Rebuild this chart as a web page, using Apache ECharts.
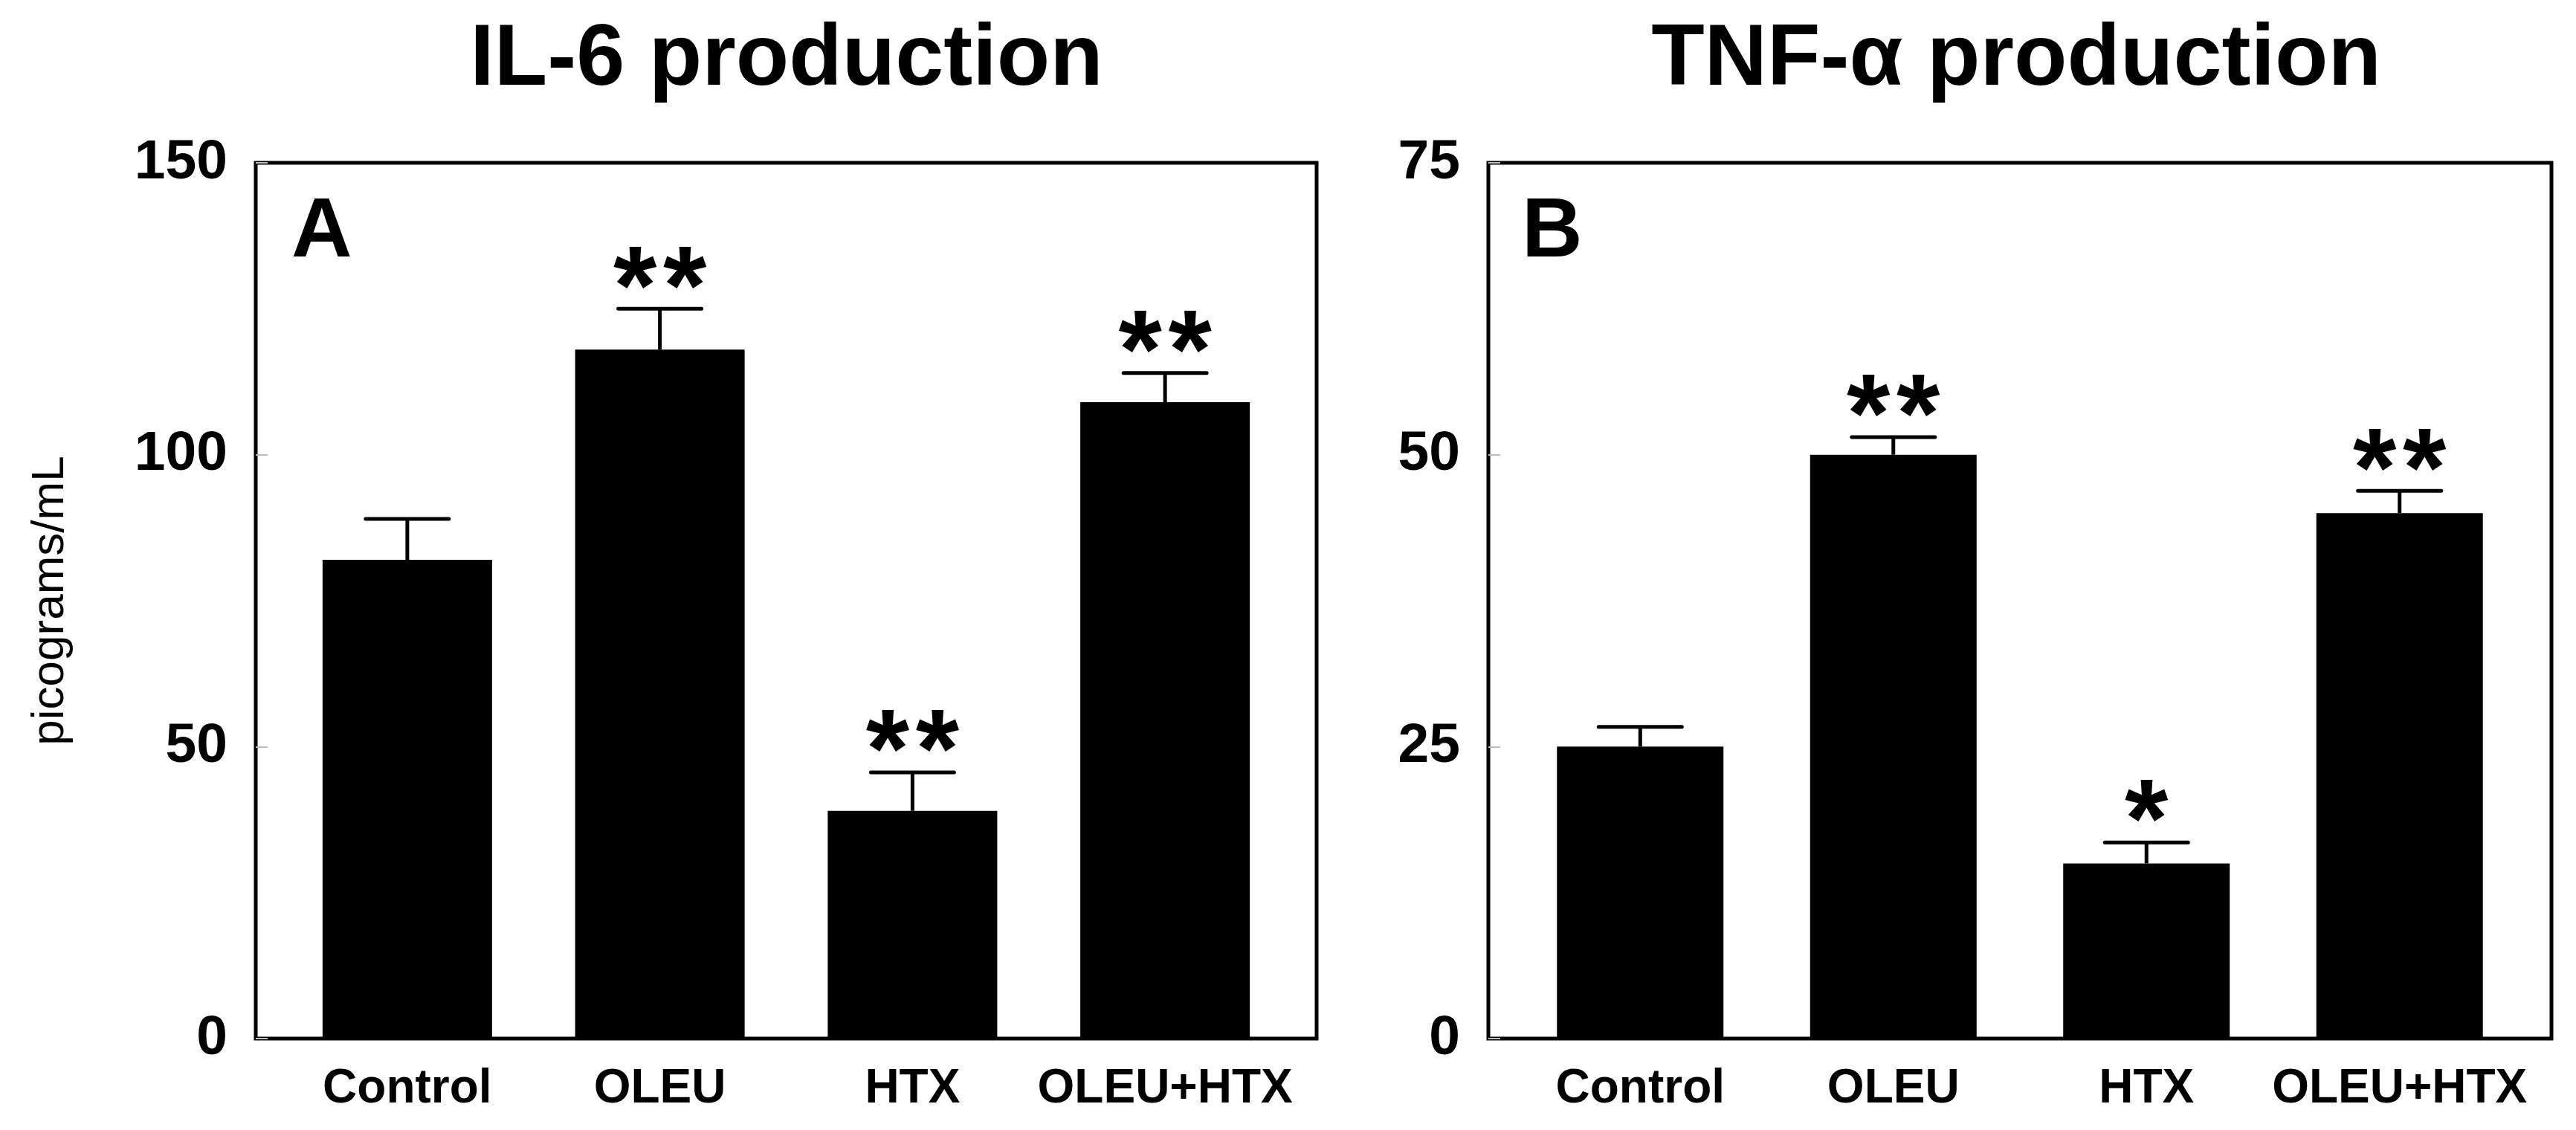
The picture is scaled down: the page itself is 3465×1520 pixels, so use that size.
<!DOCTYPE html>
<html lang="en" style="height: 100%">

<head>
  <meta charset="utf-8">
</head>

<body style="height: 100%; margin: 0; background: #fff">
  <div id="container" style="height: 100%"></div>

  <script type="text/javascript" src="https://fastly.jsdelivr.net/npm/echarts@6.0.0/dist/echarts.min.js"></script>

  <script type="text/javascript">
    var dom = document.getElementById('container');
    var myChart = echarts.init(dom, null, {
      renderer: 'canvas',
      useDirtyRect: false
    });

    const categories = ['Control', 'OLEU', 'HTX', 'OLEU+HTX'];

    const il6Values = [82, 118, 39, 109];
    const il6Errors = [7, 7, 6.6, 5];
    const il6Stars = ['', '**', '**', '**'];

    const tnfValues = [25, 50, 15, 45];
    const tnfErrors = [1.7, 1.5, 1.8, 1.9];
    const tnfStars = ['', '**', '*', '**'];

    const il6Axis = { max: 150, interval: 50 };
    const tnfAxis = { max: 75, interval: 25 };

    const FONT = '"Liberation Sans", Arial, Helvetica, sans-serif';

    function barData(values) {
      return values.map((v, i) => [i, v]);
    }

    function errData(values, errors, stars) {
      return values.map((v, i) => [i, v, errors[i], stars[i]]);
    }

    // error bar + significance stars
    function renderErr(params, api) {
      const x = api.value(0);
      const v = api.value(1);
      const e = api.value(2);
      const stars = api.value(3) || '';
      const base = api.coord([x, v]);
      const top = api.coord([x, v + e]);
      const children = [
        {
          type: 'line',
          shape: { x1: base[0], y1: base[1], x2: top[0], y2: top[1] },
          style: { stroke: '#000', lineWidth: 5 }
        },
        {
          type: 'line',
          shape: { x1: top[0] - 56, y1: top[1], x2: top[0] + 56, y2: top[1] },
          style: { stroke: '#000', lineWidth: 5, lineCap: 'round' }
        }
      ];
      const n = String(stars).length;
      for (let k = 0; k < n; k++) {
        children.push({
          type: 'text',
          x: top[0] + (k - (n - 1) / 2) * 67,
          y: top[1] - 21,
          style: {
            text: '*',
            font: 'bold 150px ' + FONT,
            fill: '#000',
            align: 'center',
            verticalAlign: 'middle'
          }
        });
      }
      return { type: 'group', children: children };
    }

    function xAxisFor(gridIndex) {
      return {
        type: 'value',
        gridIndex: gridIndex,
        min: -0.6,
        max: 3.6,
        splitLine: { show: false },
        axisLine: { show: false, onZero: false },
        axisTick: { show: false },
        axisLabel: {
          customValues: [0, 1, 2, 3],
          formatter: (v) => categories[Math.round(v)],
          margin: 36,
          color: '#000',
          fontSize: 64,
          fontWeight: 'bold',
          fontFamily: FONT
        }
      };
    }

    function yAxisFor(gridIndex, ax) {
      return {
        type: 'value',
        gridIndex: gridIndex,
        min: 0,
        max: ax.max,
        interval: ax.interval,
        splitLine: { show: false },
        axisLine: { show: false, onZero: false },
        axisTick: {
          show: true,
          inside: true,
          length: 16,
          lineStyle: { color: '#bbb', width: 2 }
        },
        axisLabel: {
          margin: 38,
          color: '#000',
          fontSize: 75,
          fontWeight: 'bold',
          fontFamily: FONT
        }
      };
    }

    var option = {
      backgroundColor: '#fff',
      animation: false,
      graphic: [
        {
          type: 'text', x: 1058, y: 82,
          style: { text: 'IL-6 production', font: 'bold 117px ' + FONT, fill: '#000', align: 'center', verticalAlign: 'middle' }
        },
        {
          type: 'text', x: 2712, y: 82,
          style: { text: 'TNF-α production', font: 'bold 117px ' + FONT, fill: '#000', align: 'center', verticalAlign: 'middle' }
        },
        {
          type: 'text', x: 392, y: 314,
          style: { text: 'A', font: 'bold 113px ' + FONT, fill: '#000', align: 'left', verticalAlign: 'middle' }
        },
        {
          type: 'text', x: 2047, y: 314,
          style: { text: 'B', font: 'bold 113px ' + FONT, fill: '#000', align: 'left', verticalAlign: 'middle' }
        }
      ],
      grid: [
        { left: 344, top: 219, width: 1427, height: 1178, show: true, borderColor: '#000', borderWidth: 5 },
        { left: 2002, top: 219, width: 1430, height: 1178, show: true, borderColor: '#000', borderWidth: 5 }
      ],
      xAxis: [xAxisFor(0), xAxisFor(1)],
      yAxis: [
        Object.assign(yAxisFor(0, il6Axis), {
          name: 'picograms/mL',
          nameLocation: 'middle',
          nameGap: 245,
          nameTextStyle: { fontSize: 62, fontFamily: FONT, color: '#000' }
        }),
        yAxisFor(1, tnfAxis)
      ],
      series: [
        {
          type: 'bar', xAxisIndex: 0, yAxisIndex: 0,
          barWidth: 228, itemStyle: { color: '#000' },
          data: barData(il6Values)
        },
        {
          type: 'custom', xAxisIndex: 0, yAxisIndex: 0,
          renderItem: renderErr, clip: false, z: 3,
          data: errData(il6Values, il6Errors, il6Stars)
        },
        {
          type: 'bar', xAxisIndex: 1, yAxisIndex: 1,
          barWidth: 224, itemStyle: { color: '#000' },
          data: barData(tnfValues)
        },
        {
          type: 'custom', xAxisIndex: 1, yAxisIndex: 1,
          renderItem: renderErr, clip: false, z: 3,
          data: errData(tnfValues, tnfErrors, tnfStars)
        }
      ]
    };

    if (option && typeof option === 'object') {
      myChart.setOption(option);
    }

    window.addEventListener('resize', myChart.resize);
  </script>
</body>

</html>
